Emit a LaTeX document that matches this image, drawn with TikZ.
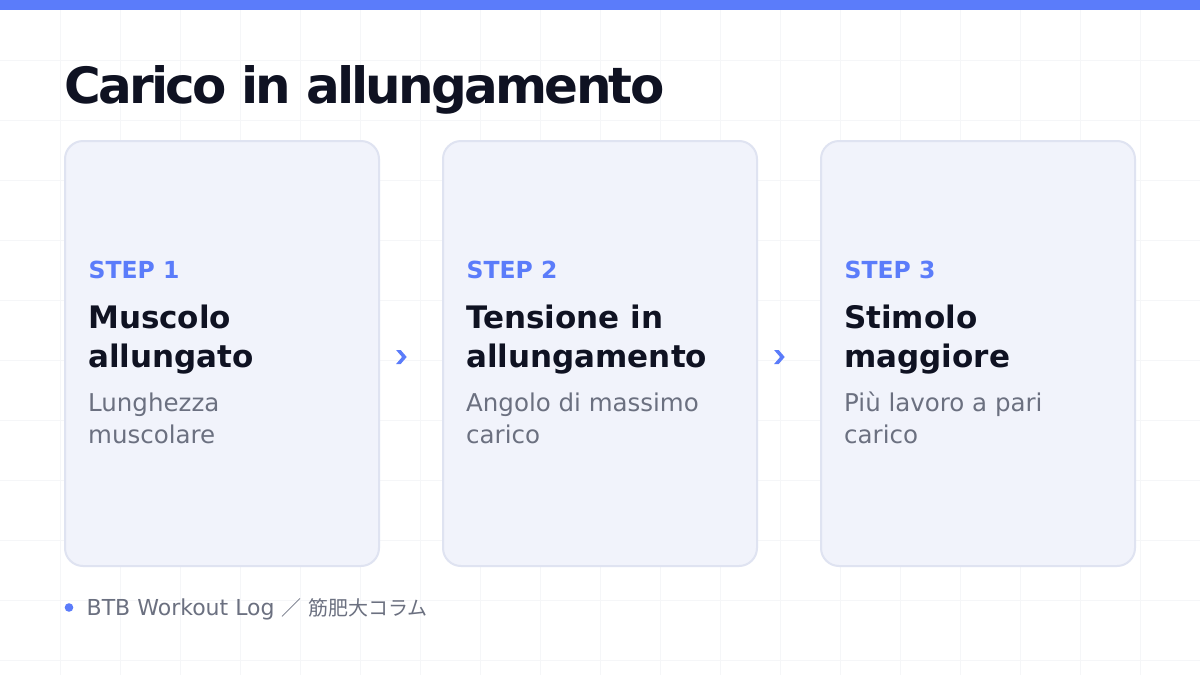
\documentclass[tikz,border=0pt]{standalone}
\usepackage{fontspec}
\usetikzlibrary{calc}
\setmainfont{DejaVu Sans}
\newfontfamily\titlefont[LetterSpace=-5.5]{DejaVu Sans Bold}
\newfontfamily\cjk{Noto Sans CJK JP}
\definecolor{accent}{HTML}{5B7CFA}
\definecolor{ink}{HTML}{0F1222}
\definecolor{muted}{HTML}{6B7080}
\definecolor{cardfill}{HTML}{F1F3FB}
\definecolor{cardline}{HTML}{DFE3F1}
\definecolor{gridc}{HTML}{F5F6F8}
\tikzset{
  card/.style={draw=cardline, line width=2pt, fill=cardfill, rounded corners=18pt,
    minimum width=314pt, minimum height=425pt, inner sep=0pt},
  steplbl/.style={anchor=base west, inner sep=0pt, text=accent,
    font=\fontsize{23.5}{28}\selectfont\bfseries},
  headtxt/.style={anchor=base west, inner sep=0pt, text=ink,
    font=\fontsize{31}{38}\selectfont\bfseries},
  subtxt/.style={anchor=base west, inner sep=0pt, text=muted,
    font=\fontsize{24.5}{32}\selectfont},
  chevron/.style={fill=accent},
}
\newcommand\cardtext[6]{%
  \node[steplbl] (#1s)  at ($(#1.north west)+(24.5,138.3)$) {#2};
  \node[headtxt] (#1h1) at ($(#1.north west)+(24,188.5)$) {#3};
  \node[headtxt] (#1h2) at ($(#1.north west)+(24,227.3)$) {#4};
  \node[subtxt]  (#1d1) at ($(#1.north west)+(24,271)$) {#5};
  \node[subtxt]  (#1d2) at ($(#1.north west)+(24,303.5)$) {#6};
}
\newcommand\drawchev[1]{%
  \fill[chevron] ([shift={(-5,-7)}]#1) -- ++(4.6,0) -- ++(6,7) -- ++(-6,7)
    -- ++(-4.6,0) -- ++(6,-7) -- cycle;
}
\begin{document}
\begin{tikzpicture}[x=1pt,y=-1pt]
\useasboundingbox (0,0) rectangle (1200,675);
\fill[white] (0,0) rectangle (1200,675);
% grid
\foreach \gx in {60,120,...,1140} {\draw[gridc, line width=1pt] (\gx,0) -- (\gx,675);}
\foreach \gy in {60,120,...,660} {\draw[gridc, line width=1pt] (0,\gy) -- (1200,\gy);}
% top bar
\fill[accent] (0,0) rectangle (1200,10);
% title
\node[anchor=base west, inner sep=0pt, text=ink, font=\fontsize{50}{60}\titlefont] (title) at (64,103.3) {Carico in allungamento};
% cards
\node[card] (c1) at (222,353.5) {};
\node[card] (c2) at (600,353.5) {};
\node[card] (c3) at (978,353.5) {};
\cardtext{c1}{STEP 1}{Muscolo}{allungato}{Lunghezza}{muscolare}
\cardtext{c2}{STEP 2}{Tensione in}{allungamento}{Angolo di massimo}{carico}
\cardtext{c3}{STEP 3}{Stimolo}{maggiore}{Più lavoro a pari}{carico}
% chevrons between cards
\coordinate (a1) at ($(c1.east)!0.34!(c2.west)+(0,3.5)$);
\coordinate (a2) at ($(c2.east)!0.34!(c3.west)+(0,3.5)$);
\drawchev{a1}
\drawchev{a2}
% footer
\fill[accent] (69,607.5) circle (4.3pt);
\node[anchor=base west, inner sep=0pt, text=muted, font=\fontsize{22}{26}\selectfont] (foot) at (86.5,615) {BTB Workout Log {\cjk\fontsize{20}{26}\selectfont ／} {\cjk\fontsize{20}{26}\selectfont 筋肥大コラム}};
\end{tikzpicture}
\end{document}
